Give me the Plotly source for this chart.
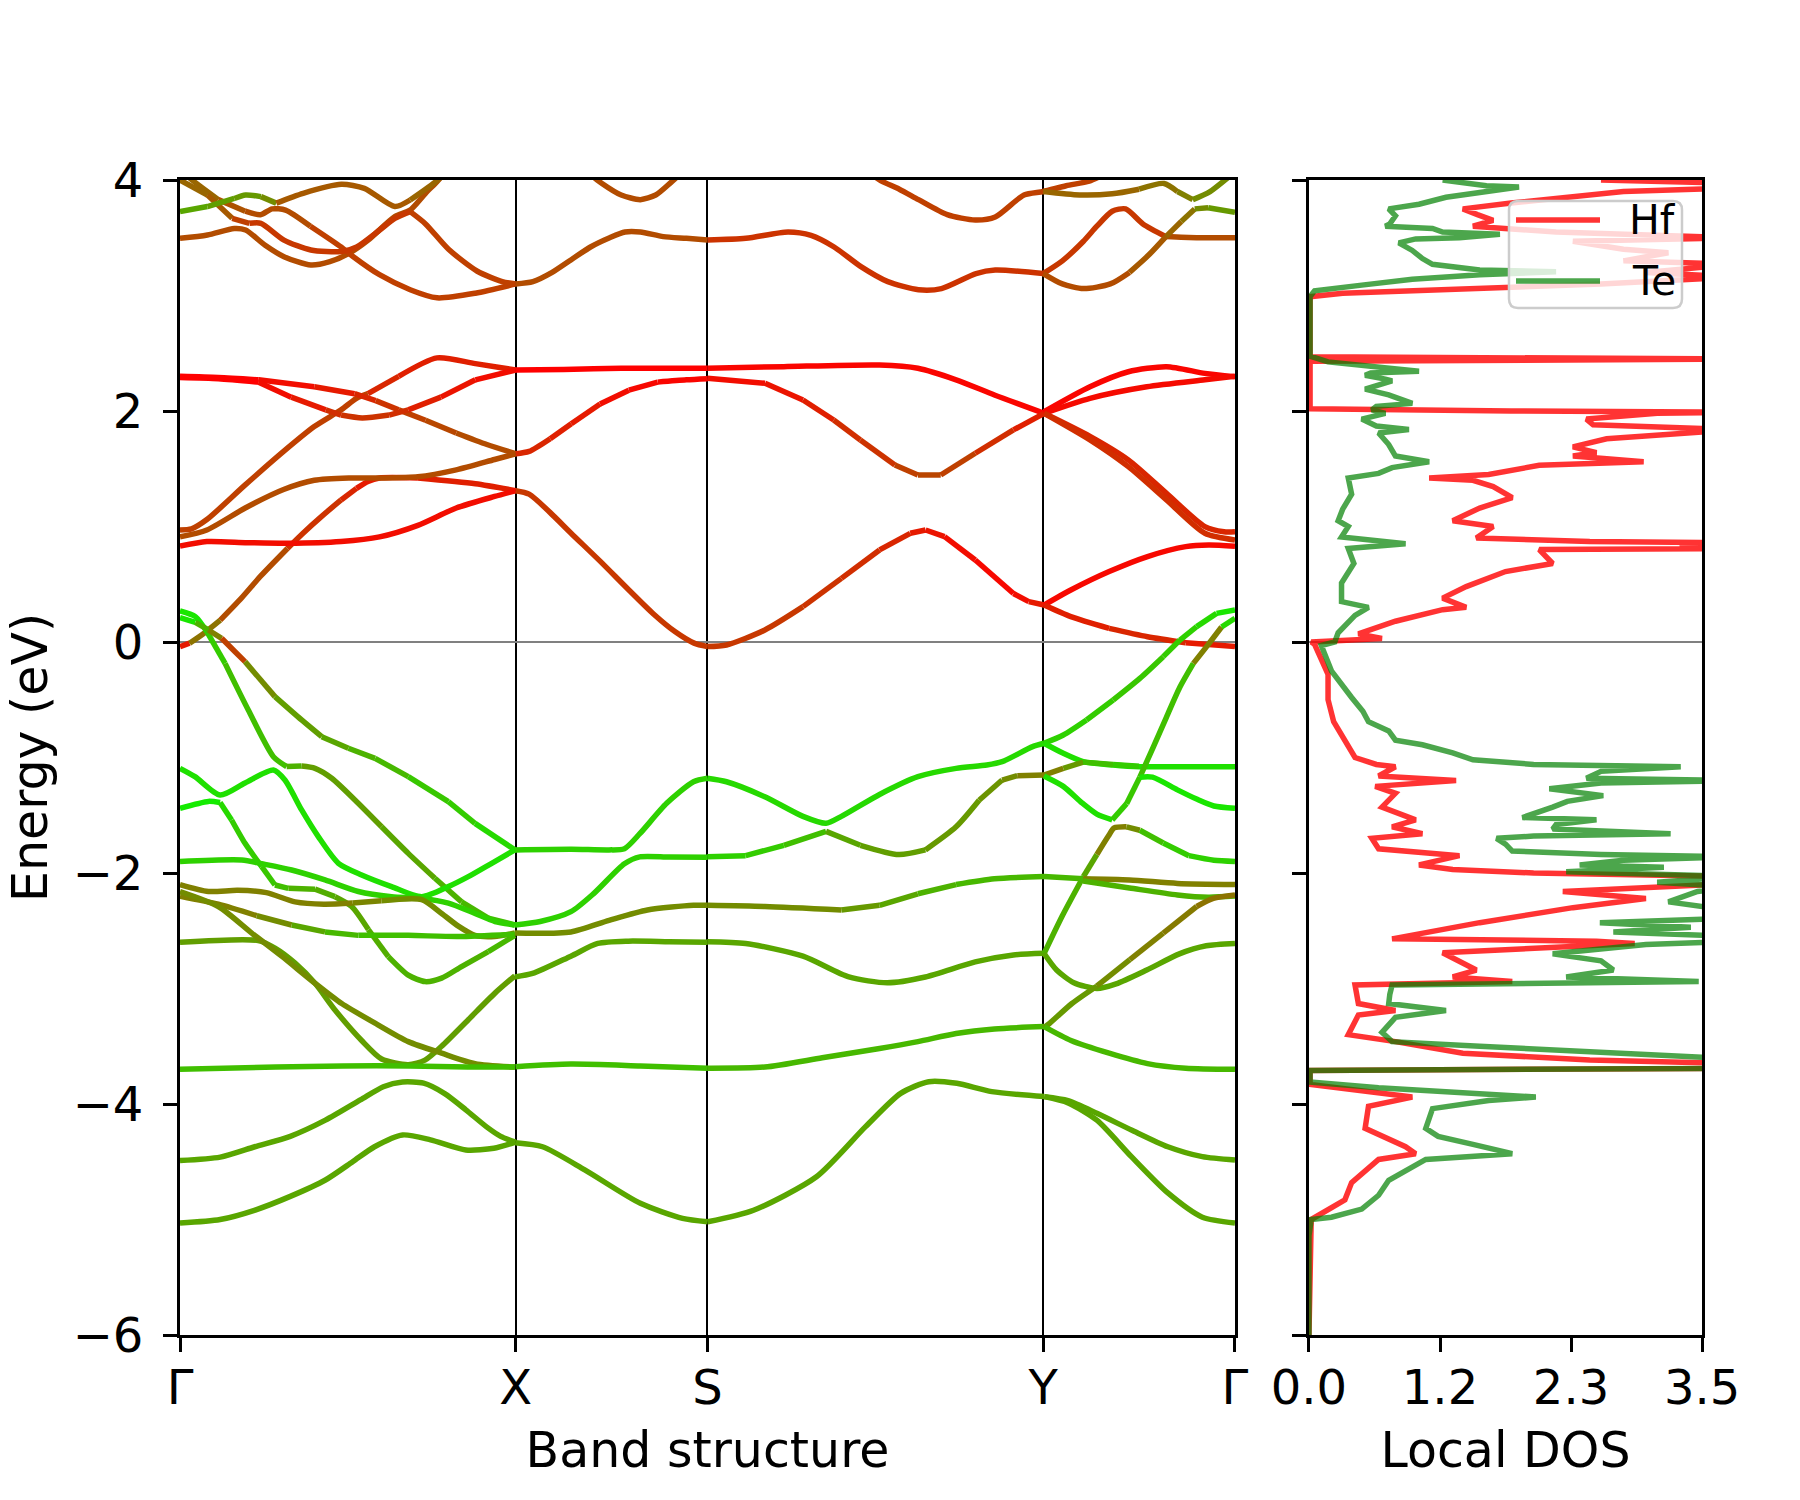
import plotly.graph_objects as go

# ---------------- axis / tick data ----------------
k_sym_pos = [0.0, 1.75, 2.75, 4.5, 5.5]
k_sym_lab = ["Γ", "X", "S", "Y", "Γ"]
e_ticks = [-6, -4, -2, 0, 2, 4]
e_tick_text = ["−6", "−4", "−2", "0", "2", "4"]
dos_max = 3.5
dos_tick_text = ["0.0", "1.2", "2.3", "3.5"]
legend_names = ["Hf", "Te"]

# ---------------- band data: k, E (eV), Te weight ----------------
# Gamma - X, conduction
gx_c1_k = [0, 0.05, 0.12, 0.21, 0.32, 0.42, 0.56, 0.64, 0.74, 0.84, 0.92, 0.98, 1.04, 1.24, 1.54, 1.75]
gx_c1_e = [-0.04, -0.01, 0.07, 0.19, 0.38, 0.57, 0.81, 0.94, 1.09, 1.23, 1.33, 1.39, 1.42, 1.42, 1.37, 1.31]
gx_c1_w = [0.1, 0.45, 0.45, 0.3, 0.3, 0.3, 0.2, 0.2, 0.2, 0.15, 0.1, 0.1, 0.1, 0.12, 0.12, 0.12]
gx_c2_k = [0, 0.14, 0.34, 0.54, 0.7, 0.88, 1.04, 1.24, 1.44, 1.64, 1.75]
gx_c2_e = [0.91, 0.97, 1.16, 1.32, 1.40, 1.42, 1.42, 1.43, 1.49, 1.58, 1.63]
gx_c2_w = 0.3
gx_c3_k = [0, 0.14, 0.35, 0.56, 0.84, 1.04, 1.24, 1.44, 1.64, 1.75]
gx_c3_e = [0.83, 0.87, 0.86, 0.855, 0.87, 0.91, 1.01, 1.16, 1.26, 1.31]
gx_c3_w = 0.05
gx_c4_k = [0, 0.06, 0.14, 0.34, 0.54, 0.7, 0.84, 0.92, 0.98, 1.14, 1.34, 1.54, 1.75]
gx_c4_e = [0.97, 0.98, 1.06, 1.36, 1.65, 1.865, 2.01, 2.11, 2.15, 2.30, 2.46, 2.41, 2.355]
gx_c4_w = [0.25, 0.25, 0.25, 0.25, 0.25, 0.25, 0.25, 0.25, 0.15, 0.12, 0.12, 0.12, 0.12]
gx_c5_k = [0, 0.2, 0.41, 0.7, 0.91, 1.02, 1.14, 1.28, 1.44, 1.6, 1.75]
gx_c5_e = [2.30, 2.29, 2.27, 2.21, 2.15, 2.09, 2.01, 1.92, 1.81, 1.71, 1.63]
gx_c5_w = [0.0, 0.0, 0.05, 0.1, 0.15, 0.2, 0.25, 0.28, 0.3, 0.3, 0.3]
gx_c6_k = [0, 0.2, 0.41, 0.58, 0.76, 0.84, 0.95, 1.09, 1.19, 1.36, 1.54, 1.75]
gx_c6_e = [2.29, 2.28, 2.25, 2.12, 2.01, 1.965, 1.94, 1.965, 2.01, 2.12, 2.27, 2.355]
gx_c6_w = [0.0, 0.0, 0.05, 0.1, 0.18, 0.2, 0.2, 0.18, 0.12, 0.08, 0.05, 0.03]
# Gamma - X, upper conduction
gx_u1_k = [0, 0.143, 0.283, 0.342, 0.442, 0.542, 0.682, 0.781, 0.881, 0.981, 1.12, 1.2, 1.28, 1.34, 1.4]
gx_u1_e = [3.495, 3.524, 3.58, 3.567, 3.437, 3.336, 3.264, 3.293, 3.365, 3.48, 3.683, 3.74, 3.885, 3.986, 4.1]
gx_u1_w = 0.3
gx_u2_k = [0.0, 0.063, 0.2, 0.34, 0.42, 0.48, 0.55, 0.68, 0.84, 0.9, 1.04, 1.2, 1.34, 1.54, 1.75]
gx_u2_e = [4.1, 4.0, 3.83, 3.73, 3.70, 3.75, 3.74, 3.60, 3.42, 3.34, 3.18, 3.05, 2.98, 3.02, 3.10]
gx_u2_w = [0.4, 0.4, 0.32, 0.3, 0.3, 0.3, 0.3, 0.25, 0.25, 0.25, 0.25, 0.25, 0.25, 0.25, 0.25]
gx_u3_k = [0, 0.143, 0.272, 0.362, 0.422, 0.542, 0.682, 0.841, 0.921, 1.041, 1.12, 1.2, 1.28, 1.4, 1.55, 1.68, 1.75]
gx_u3_e = [4.0, 3.87, 3.668, 3.625, 3.625, 3.48, 3.394, 3.38, 3.42, 3.567, 3.668, 3.726, 3.62, 3.40, 3.21, 3.12, 3.10]
gx_u3_w = [0.4, 0.35, 0.25, 0.22, 0.22, 0.22, 0.22, 0.22, 0.22, 0.22, 0.22, 0.25, 0.25, 0.25, 0.25, 0.25, 0.25]
gx_u4_k = [0, 0.143, 0.283, 0.342, 0.422, 0.502, 0.642, 0.841, 0.961, 1.12, 1.2, 1.34, 1.4]
gx_u4_e = [3.726, 3.77, 3.84, 3.87, 3.856, 3.80, 3.885, 3.963, 3.928, 3.77, 3.827, 3.995, 4.1]
gx_u4_w = [0.65, 0.62, 0.6, 0.6, 0.55, 0.35, 0.35, 0.35, 0.35, 0.35, 0.4, 0.4, 0.4]
# X - S
xs_c1_k = [1.75, 2.0, 2.3, 2.75]
xs_c1_e = [2.355, 2.36, 2.37, 2.37]
xs_c1_w = 0.0
xs_c2_k = [1.75, 1.82, 1.93, 2.04, 2.19, 2.34, 2.49, 2.64, 2.75]
xs_c2_e = [1.63, 1.65, 1.76, 1.89, 2.06, 2.18, 2.25, 2.27, 2.28]
xs_c2_w = [0.15, 0.15, 0.12, 0.1, 0.05, 0.03, 0.02, 0.02, 0.02]
xs_c3_k = [1.75, 1.82, 1.93, 2.04, 2.19, 2.34, 2.47, 2.58, 2.68, 2.75]
xs_c3_e = [1.31, 1.28, 1.12, 0.94, 0.70, 0.45, 0.24, 0.09, -0.01, -0.04]
xs_c3_w = 0.22
xs_u1_k = [1.75, 1.84, 1.94, 2.04, 2.14, 2.24, 2.32, 2.4, 2.52, 2.64, 2.75]
xs_u1_e = [3.10, 3.12, 3.20, 3.31, 3.42, 3.50, 3.55, 3.55, 3.51, 3.495, 3.48]
xs_u1_w = 0.3
xs_u2_k = [2.1, 2.2, 2.3, 2.4, 2.48, 2.56, 2.64]
xs_u2_e = [4.1, 3.97, 3.87, 3.83, 3.87, 3.98, 4.1]
xs_u2_w = 0.3
# S - Y
sy_c1_k = [2.75, 3.148, 3.647, 3.847, 4.046, 4.246, 4.505]
sy_c1_e = [2.37, 2.384, 2.398, 2.37, 2.27, 2.139, 1.98]
sy_c1_w = 0.02
sy_c2_k = [2.749, 3.05, 3.248, 3.408, 3.547, 3.727, 3.847, 3.966, 4.146, 4.345, 4.505]
sy_c2_e = [2.283, 2.24, 2.095, 1.922, 1.749, 1.533, 1.446, 1.446, 1.634, 1.836, 1.98]
sy_c2_w = [0.05, 0.08, 0.12, 0.18, 0.2, 0.25, 0.27, 0.25, 0.18, 0.12, 0.08]
sy_c3_k = [2.749, 2.849, 3.049, 3.248, 3.448, 3.647, 3.807, 3.887, 3.986, 4.146, 4.345, 4.425, 4.505]
sy_c3_e = [-0.04, -0.026, 0.104, 0.306, 0.551, 0.797, 0.941, 0.97, 0.912, 0.71, 0.42, 0.35, 0.32]
sy_c3_w = [0.22, 0.22, 0.22, 0.2, 0.18, 0.15, 0.1, 0.08, 0.05, 0.03, 0.05, 0.1, 0.12]
sy_u1_k = [2.75, 2.95, 3.17, 3.29, 3.41, 3.55, 3.69, 3.85, 3.97, 4.15, 4.25, 4.5]
sy_u1_e = [3.48, 3.495, 3.55, 3.52, 3.42, 3.25, 3.12, 3.05, 3.06, 3.19, 3.22, 3.19]
sy_u1_w = 0.2
sy_u2_k = [3.6, 3.647, 3.75, 3.85, 4.0, 4.146, 4.25, 4.4, 4.5, 4.62, 4.74, 4.82]
sy_u2_e = [4.06, 4.0, 3.92, 3.83, 3.70, 3.654, 3.68, 3.87, 3.90, 3.95, 3.99, 4.05]
sy_u2_w = 0.25
# Y - Gamma
yg_c1_k = [4.505, 4.744, 4.944, 5.143, 5.343, 5.5]
yg_c1_e = [1.994, 2.21, 2.34, 2.384, 2.326, 2.297]
yg_c1_w = 0.02
yg_c2_k = [4.505, 4.744, 5.04, 5.343, 5.5]
yg_c2_e = [1.98, 2.11, 2.21, 2.27, 2.30]
yg_c2_w = 0.04
yg_c3_k = [4.505, 4.744, 4.944, 5.143, 5.343, 5.443, 5.5]
yg_c3_e = [1.98, 1.78, 1.576, 1.287, 0.999, 0.955, 0.955]
yg_c3_w = 0.15
yg_c4_k = [4.505, 4.744, 4.944, 5.143, 5.343, 5.5]
yg_c4_e = [1.98, 1.75, 1.518, 1.23, 0.941, 0.883]
yg_c4_w = 0.18
yg_c5_k = [4.505, 4.644, 4.844, 5.044, 5.243, 5.363, 5.5]
yg_c5_e = [0.32, 0.45, 0.61, 0.74, 0.826, 0.84, 0.83]
yg_c5_w = 0.03
yg_c6_k = [4.505, 4.644, 4.844, 5.044, 5.243, 5.5]
yg_c6_e = [0.32, 0.22, 0.118, 0.046, -0.006, -0.04]
yg_c6_w = [0.12, 0.12, 0.15, 0.15, 0.1, 0.08]
yg_u1_k = [4.5, 4.6, 4.71, 4.78, 4.86, 4.93, 5.02, 5.14, 5.3, 5.5]
yg_u1_e = [3.19, 3.30, 3.47, 3.60, 3.73, 3.75, 3.62, 3.51, 3.50, 3.50]
yg_u1_w = [0.22, 0.22, 0.22, 0.22, 0.22, 0.22, 0.22, 0.3, 0.3, 0.3]
yg_u2_k = [4.5, 4.6, 4.71, 4.85, 4.95, 5.05, 5.14, 5.22, 5.29, 5.36, 5.5]
yg_u2_e = [3.19, 3.10, 3.06, 3.10, 3.20, 3.35, 3.51, 3.64, 3.75, 3.76, 3.72]
yg_u2_w = [0.3, 0.3, 0.3, 0.3, 0.35, 0.35, 0.4, 0.45, 0.55, 0.6, 0.62]
yg_u3_k = [4.5, 4.69, 4.86, 5.0, 5.13, 5.2, 5.28, 5.37, 5.47, 5.55]
yg_u3_e = [3.90, 3.87, 3.88, 3.92, 3.97, 3.90, 3.83, 3.90, 4.03, 4.15]
yg_u3_w = [0.4, 0.4, 0.4, 0.45, 0.45, 0.5, 0.55, 0.55, 0.5, 0.5]

# valence, Gamma - X
gx_v1_k = [0, 0.08, 0.14, 0.235, 0.356, 0.487, 0.556, 0.634, 0.704, 0.791, 0.912, 1.051, 1.19, 1.329, 1.468, 1.607, 1.746]
gx_v1_e = [0.27, 0.22, 0.09, -0.185, -0.589, -0.993, -1.079, -1.074, -1.094, -1.18, -1.368, -1.60, -1.83, -2.046, -2.25, -2.39, -2.45]
gx_v1_w = [0.9, 0.9, 0.8, 0.75, 0.75, 0.75, 0.7, 0.62, 0.62, 0.62, 0.62, 0.65, 0.65, 0.7, 0.72, 0.75, 0.75]
gx_v2_k = [0, 0.08, 0.148, 0.217, 0.287, 0.339, 0.495, 0.634, 0.739, 0.878, 1.017, 1.19, 1.399, 1.538, 1.746]
gx_v2_e = [0.21, 0.17, 0.104, 0.032, -0.084, -0.17, -0.473, -0.675, -0.82, -0.92, -1.007, -1.166, -1.382, -1.57, -1.80]
gx_v2_w = [0.9, 0.7, 0.5, 0.25, 0.25, 0.55, 0.62, 0.62, 0.65, 0.7, 0.72, 0.78, 0.8, 0.85, 0.85]
gx_v3_k = [0, 0.078, 0.209, 0.339, 0.487, 0.547, 0.634, 0.721, 0.826, 0.947, 1.103, 1.26, 1.399, 1.503, 1.625, 1.746]
gx_v3_e = [-1.094, -1.166, -1.325, -1.22, -1.108, -1.195, -1.454, -1.685, -1.916, -2.017, -2.118, -2.205, -2.118, -2.032, -1.916, -1.80]
gx_v3_w = 0.88
gx_v4_k = [0, 0.148, 0.209, 0.269, 0.339, 0.426, 0.495, 0.565, 0.704, 0.808, 0.895, 0.982, 1.086, 1.19, 1.277, 1.364, 1.468, 1.607, 1.746]
gx_v4_e = [-1.44, -1.38, -1.39, -1.541, -1.743, -1.945, -2.104, -2.133, -2.14, -2.205, -2.29, -2.49, -2.724, -2.884, -2.94, -2.91, -2.81, -2.68, -2.54]
gx_v4_w = [0.92, 0.92, 0.85, 0.8, 0.8, 0.78, 0.75, 0.7, 0.68, 0.65, 0.65, 0.68, 0.7, 0.7, 0.7, 0.7, 0.7, 0.72, 0.72]
gx_v5_k = [0, 0.322, 0.426, 0.582, 0.756, 0.93, 1.103, 1.26, 1.399, 1.538, 1.642, 1.746]
gx_v5_e = [-1.90, -1.887, -1.92, -1.974, -2.06, -2.16, -2.205, -2.22, -2.26, -2.35, -2.42, -2.45]
gx_v5_w = 0.82
gx_v6_k = [0, 0.148, 0.3, 0.45, 0.6, 0.75, 0.9, 1.05, 1.26, 1.364, 1.451, 1.538, 1.64, 1.746]
gx_v6_e = [-2.10, -2.16, -2.15, -2.17, -2.25, -2.27, -2.26, -2.24, -2.23, -2.35, -2.46, -2.54, -2.55, -2.52]
gx_v6_w = [0.5, 0.5, 0.5, 0.5, 0.5, 0.5, 0.52, 0.55, 0.55, 0.55, 0.55, 0.55, 0.55, 0.55]
gx_v7_k = [0, 0.2, 0.4, 0.582, 0.756, 0.93, 1.19, 1.451, 1.746]
gx_v7_e = [-2.20, -2.27, -2.37, -2.45, -2.51, -2.54, -2.54, -2.55, -2.53]
gx_v7_w = [0.5, 0.5, 0.55, 0.65, 0.72, 0.75, 0.75, 0.75, 0.75]
gx_v8_k = [0, 0.408, 0.495, 0.6, 0.704, 0.808, 0.947, 1.051, 1.19, 1.277, 1.364, 1.503, 1.642, 1.746]
gx_v8_e = [-2.60, -2.585, -2.65, -2.78, -2.955, -3.186, -3.45, -3.61, -3.66, -3.62, -3.50, -3.27, -3.04, -2.89]
gx_v8_w = 0.62
gx_v9_k = [0, 0.2, 0.374, 0.53, 0.704, 0.843, 1.017, 1.19, 1.364, 1.538, 1.746]
gx_v9_e = [-2.16, -2.29, -2.52, -2.72, -2.955, -3.13, -3.30, -3.46, -3.56, -3.65, -3.68]
gx_v9_w = 0.55
gx_v10_k = [0, 0.5, 0.85, 1.2, 1.5, 1.746]
gx_v10_e = [-3.70, -3.68, -3.67, -3.67, -3.68, -3.68]
gx_v10_w = 0.75
gx_v11_k = [0, 0.21, 0.39, 0.575, 0.758, 0.94, 1.06, 1.16, 1.27, 1.38, 1.49, 1.6, 1.672, 1.749]
gx_v11_e = [-4.49, -4.46, -4.37, -4.28, -4.14, -3.965, -3.85, -3.81, -3.82, -3.91, -4.05, -4.2, -4.28, -4.33]
gx_v11_w = 0.65
gx_v12_k = [0, 0.209, 0.392, 0.575, 0.758, 0.9, 1.014, 1.16, 1.306, 1.49, 1.636, 1.749]
gx_v12_e = [-5.03, -5.0, -4.918, -4.8, -4.658, -4.5, -4.37, -4.268, -4.31, -4.398, -4.383, -4.33]
gx_v12_w = 0.65
# valence, X - S
xs_v1_k = [1.746, 2.04, 2.237, 2.317, 2.397, 2.537, 2.677, 2.75]
xs_v1_e = [-1.80, -1.795, -1.80, -1.79, -1.66, -1.397, -1.21, -1.18]
xs_v1_w = 0.82
xs_v2_k = [1.746, 1.878, 2.038, 2.158, 2.317, 2.397, 2.55, 2.75]
xs_v2_e = [-2.45, -2.42, -2.335, -2.176, -1.92, -1.86, -1.862, -1.864]
xs_v2_w = 0.82
xs_v3_k = [1.746, 2.038, 2.237, 2.437, 2.677, 2.75]
xs_v3_e = [-2.52, -2.51, -2.41, -2.32, -2.28, -2.28]
xs_v3_w = 0.55
xs_v4_k = [1.746, 1.838, 2.038, 2.178, 2.337, 2.55, 2.75]
xs_v4_e = [-2.90, -2.87, -2.72, -2.61, -2.59, -2.595, -2.60]
xs_v4_w = 0.65
xs_v5_k = [1.749, 2.038, 2.4, 2.751]
xs_v5_e = [-3.677, -3.654, -3.67, -3.69]
xs_v5_w = 0.75
xs_v6_k = [1.749, 1.89, 2.11, 2.4, 2.62, 2.751]
xs_v6_e = [-4.335, -4.37, -4.57, -4.86, -4.99, -5.02]
xs_v6_w = 0.65
# valence, S - Y
sy_v1_k = [2.749, 2.849, 3.049, 3.248, 3.368, 3.448, 3.647, 3.847, 4.046, 4.206, 4.286, 4.445, 4.505]
sy_v1_e = [-1.18, -1.21, -1.34, -1.51, -1.57, -1.51, -1.32, -1.166, -1.094, -1.065, -1.036, -0.906, -0.877]
sy_v1_w = 0.85
sy_v2_k = [2.749, 2.949, 3.148, 3.368, 3.547, 3.747, 3.886, 4.046, 4.166, 4.286, 4.365, 4.505]
sy_v2_e = [-1.86, -1.85, -1.76, -1.64, -1.76, -1.84, -1.80, -1.60, -1.37, -1.195, -1.157, -1.152]
sy_v2_w = [0.82, 0.8, 0.75, 0.65, 0.62, 0.62, 0.6, 0.6, 0.58, 0.55, 0.5, 0.5]
sy_v3_k = [2.749, 3.049, 3.448, 3.647, 3.847, 4.046, 4.246, 4.505]
sy_v3_e = [-2.28, -2.29, -2.32, -2.28, -2.18, -2.10, -2.05, -2.03]
sy_v3_w = [0.55, 0.55, 0.6, 0.65, 0.7, 0.72, 0.72, 0.72]
sy_v4_k = [2.749, 2.949, 3.248, 3.487, 3.687, 3.886, 4.146, 4.345, 4.505]
sy_v4_e = [-2.595, -2.61, -2.72, -2.90, -2.95, -2.90, -2.77, -2.71, -2.695]
sy_v4_w = 0.65
sy_v5_k = [2.749, 3.049, 3.348, 3.647, 3.847, 4.046, 4.246, 4.505]
sy_v5_e = [-3.69, -3.68, -3.60, -3.52, -3.46, -3.39, -3.35, -3.33]
sy_v5_w = 0.72
sy_v6_k = [2.751, 2.99, 3.318, 3.574, 3.757, 3.903, 4.05, 4.232, 4.506]
sy_v6_e = [-5.02, -4.92, -4.63, -4.196, -3.908, -3.807, -3.821, -3.893, -3.936]
sy_v6_w = 0.65
# valence, Y - Gamma
yg_v1_k = [4.504, 4.605, 4.726, 4.865, 5.004, 5.126, 5.213, 5.3, 5.404, 5.5]
yg_v1_e = [-0.877, -0.805, -0.675, -0.502, -0.315, -0.127, 0.017, 0.133, 0.248, 0.277]
yg_v1_w = [0.82, 0.82, 0.8, 0.78, 0.78, 0.8, 0.82, 0.85, 0.9, 0.9]
yg_v2_k = [4.504, 4.605, 4.709, 4.865, 5.004, 5.2, 5.5]
yg_v2_e = [-0.877, -0.964, -1.036, -1.065, -1.08, -1.08, -1.08]
yg_v2_w = 0.88
yg_v3_k = [4.504, 4.605, 4.709, 4.865, 5.0]
yg_v3_e = [-1.152, -1.094, -1.04, -1.06, -1.075]
yg_v3_w = [0.5, 0.6, 0.75, 0.8, 0.85]
yg_v4_k = [4.504, 4.605, 4.70, 4.78, 4.86, 4.935, 5.004, 5.074, 5.143, 5.213, 5.283, 5.352, 5.43, 5.5]
yg_v4_e = [-1.16, -1.25, -1.39, -1.49, -1.54, -1.40, -1.17, -0.91, -0.65, -0.39, -0.185, -0.04, 0.13, 0.205]
yg_v4_w = [0.88, 0.88, 0.88, 0.88, 0.8, 0.78, 0.75, 0.75, 0.75, 0.75, 0.5, 0.5, 0.85, 0.88]
yg_v5_k = [5.004, 5.07, 5.2, 5.3, 5.39, 5.5]
yg_v5_e = [-1.17, -1.17, -1.28, -1.36, -1.42, -1.44]
yg_v5_w = 0.9
yg_v6_k = [4.504, 4.6, 4.71, 4.78, 4.84, 4.87, 4.935, 5.004, 5.126, 5.26, 5.39, 5.5]
yg_v6_e = [-2.70, -2.37, -2.03, -1.84, -1.68, -1.61, -1.60, -1.63, -1.74, -1.85, -1.89, -1.90]
yg_v6_w = [0.7, 0.7, 0.65, 0.5, 0.5, 0.5, 0.55, 0.75, 0.8, 0.82, 0.82, 0.82]
yg_v7_k = [4.504, 4.709, 4.95, 5.2, 5.5]
yg_v7_e = [-2.03, -2.05, -2.06, -2.09, -2.10]
yg_v7_w = [0.72, 0.5, 0.5, 0.5, 0.5]
yg_v8_k = [4.709, 4.95, 5.2, 5.36, 5.5]
yg_v8_e = [-2.07, -2.13, -2.19, -2.21, -2.20]
yg_v8_w = 0.7
yg_v9_k = [4.504, 4.57, 4.66, 4.78, 4.88, 5.04, 5.21, 5.35, 5.5]
yg_v9_e = [-2.695, -2.84, -2.95, -3.0, -2.96, -2.84, -2.70, -2.63, -2.61]
yg_v9_w = 0.65
yg_v10_k = [4.504, 4.535, 4.65, 4.779, 4.952, 5.126, 5.3, 5.387, 5.5]
yg_v10_e = [-3.34, -3.30, -3.13, -2.98, -2.75, -2.52, -2.29, -2.22, -2.19]
yg_v10_w = [0.6, 0.6, 0.6, 0.55, 0.5, 0.48, 0.45, 0.45, 0.45]
yg_v11_k = [4.505, 4.645, 4.844, 5.044, 5.243, 5.5]
yg_v11_e = [-3.33, -3.45, -3.56, -3.65, -3.69, -3.70]
yg_v11_w = 0.72
yg_v12_k = [4.506, 4.63, 4.78, 4.96, 5.15, 5.33, 5.5]
yg_v12_e = [-3.936, -3.97, -4.08, -4.225, -4.37, -4.456, -4.485]
yg_v12_w = 0.65
yg_v13_k = [4.506, 4.63, 4.78, 4.96, 5.15, 5.33, 5.5]
yg_v13_e = [-3.936, -3.99, -4.14, -4.456, -4.77, -4.98, -5.03]
yg_v13_w = 0.65

# ---------------- local DOS data ----------------
dos_te_e = [4.00, 3.97, 3.95, 3.94, 3.91, 3.88, 3.85, 3.79, 3.75, 3.69, 3.62, 3.60, 3.59, 3.58, 3.55, 3.53, 3.50,
            3.49, 3.455, 3.39, 3.32, 3.27, 3.22, 3.206, 3.18, 3.14, 3.09, 3.04, 2.99, 2.475, 2.425, 2.39, 2.37,
            2.345, 2.33, 2.31, 2.276, 2.26, 2.19, 2.14, 2.066, 2.04, 2.01, 1.98, 1.93, 1.87, 1.84, 1.81, 1.71,
            1.61, 1.56, 1.51, 1.46, 1.42, 1.28, 1.15, 1.05, 1.00, 0.91, 0.85, 0.81, 0.68, 0.51, 0.35, 0.30, 0.23,
            0.08, 0.00, -0.03, -0.25, -0.48, -0.60, -0.69, -0.77, -0.85, -0.89, -0.96, -1.02, -1.06, -1.08, -1.12,
            -1.18, -1.20, -1.22, -1.27, -1.33, -1.38, -1.43, -1.52, -1.54, -1.58, -1.62, -1.66, -1.68, -1.70,
            -1.75, -1.81, -1.84, -1.86, -1.89, -1.93, -1.95, -1.99, -2.03, -2.08, -2.12, -2.16, -2.25, -2.33,
            -2.39, -2.43, -2.47, -2.51, -2.55, -2.59, -2.62, -2.70, -2.76, -2.84, -2.90, -2.94, -2.96, -2.97,
            -3.05, -3.13, -3.19, -3.25, -3.38, -3.46, -3.50, -3.55, -3.61, -3.66, -3.69, -3.71, -3.81, -3.86,
            -3.90, -3.94, -3.97, -4.04, -4.21, -4.28, -4.35, -4.43, -4.48, -4.56, -4.66, -4.79, -4.91, -4.98,
            -5.00, -5.14, -6.00]
dos_te = [1.19, 1.40, 1.58, 1.87, 1.63, 1.46, 1.22, 0.98, 0.71, 0.77, 0.72, 0.68, 0.86, 1.10, 1.19, 1.70, 1.34,
          0.95, 0.80, 0.92, 1.01, 1.10, 1.52, 2.20, 1.52, 0.92, 0.47, 0.05, 0.01, 0.01, 0.17, 0.53, 0.70,
          0.98, 0.55, 0.50, 0.68, 0.74, 0.50, 0.71, 0.92, 0.60, 0.56, 0.68, 0.47, 0.60, 0.89, 0.62, 0.71,
          0.77, 1.07, 0.74, 0.62, 0.35, 0.38, 0.30, 0.26, 0.35, 0.29, 0.86, 0.35, 0.40, 0.29, 0.29, 0.53, 0.41,
          0.26, 0.23, 0.11, 0.20, 0.38, 0.48, 0.53, 0.71, 0.77, 1.01, 1.28, 1.46, 2.0, 3.31, 2.6,
          2.47, 3.8, 2.6, 2.14, 2.62, 2.3, 2.17, 1.90, 2.56, 2.2, 2.17, 3.22, 2.0, 1.67,
          1.75, 1.81, 2.6, 3.8, 2.8, 2.41, 3.16, 2.29, 3.8, 3.1, 3.8, 3.46, 3.2, 3.8,
          3.8, 2.59, 3.4, 2.71, 3.8, 3.8, 3.0, 2.17, 2.6, 2.71, 2.29, 3.47, 1.5, 0.74,
          0.72, 0.71, 1.22, 0.77, 0.65, 0.74, 1.52, 2.5, 3.8, 3.8, 3.8, 0.01, 0.01, 0.62,
          1.4, 2.02, 1.6, 1.10, 1.04, 1.15, 1.46, 1.81, 1.04, 0.9, 0.71, 0.62, 0.47, 0.2,
          0.02, 0.0, 0.0]
dos_hf_e = [4.00, 3.97, 3.93, 3.90, 3.80, 3.75, 3.70, 3.65, 3.60, 3.55, 3.50, 3.47, 3.40, 3.37, 3.30, 3.27, 3.20,
            3.16, 3.10, 3.06, 3.02, 2.99, 2.47, 2.45, 2.43, 2.02, 2.00, 1.99, 1.98, 1.93, 1.88, 1.84, 1.79, 1.76,
            1.69, 1.64, 1.61, 1.56, 1.53, 1.45, 1.42, 1.40, 1.345, 1.25, 1.16, 1.05, 1.00, 0.90, 0.87, 0.86, 0.83,
            0.81, 0.80, 0.68, 0.61, 0.48, 0.38, 0.30, 0.28, 0.18, 0.07, 0.03, 0.00, -0.02, -0.28, -0.50, -0.69,
            -0.81, -1.00, -1.06, -1.08, -1.16, -1.20, -1.25, -1.31, -1.43, -1.54, -1.60, -1.66, -1.70, -1.79,
            -1.85, -1.93, -1.97, -2.00, -2.03, -2.09, -2.16, -2.22, -2.30, -2.43, -2.57, -2.59, -2.61, -2.69,
            -2.84, -2.90, -2.94, -2.96, -2.97, -3.13, -3.19, -3.23, -3.40, -3.46, -3.56, -3.62, -3.65, -3.69,
            -3.71, -3.83, -3.90, -3.94, -4.02, -4.21, -4.37, -4.43, -4.48, -4.68, -4.83, -4.95, -5.00, -6.00]
dos_hf = [2.6, 3.8, 3.8, 2.8, 1.8, 1.37, 1.5, 1.64, 1.46, 2.2, 3.8, 2.35, 2.8, 3.2, 2.8, 3.8, 3.0,
          3.8, 2.6, 1.5, 0.3, 0.01, 0.01, 3.8, 0.01, 0.01, 1.8, 3.8, 3.1, 2.47, 2.53, 3.8, 3.13, 2.65,
          2.35, 2.56, 2.35, 2.98, 2.05, 1.6, 1.07, 1.46, 1.64, 1.81, 1.52, 1.28, 1.64, 1.49, 2.5, 3.8, 3.3,
          3.8, 2.05, 2.17, 1.75, 1.40, 1.19, 1.40, 1.19, 0.77, 0.44, 0.65, 0.02, 0.05, 0.17, 0.17, 0.22,
          0.29, 0.41, 0.6, 0.77, 0.62, 1.31, 0.59, 0.77, 0.65, 0.95, 0.74, 1.01, 0.56, 0.62,
          1.34, 0.98, 1.28, 2.0, 3.8, 3.8, 2.26, 3.0, 2.35, 1.52, 0.74, 2.56, 2.9, 1.19,
          1.49, 1.28, 1.81, 0.8, 0.41, 0.44, 0.77, 0.44, 0.35, 0.77, 1.37, 2.5, 3.8, 3.8,
          0.01, 0.01, 0.6, 0.92, 0.53, 0.50, 0.86, 0.95, 0.62, 0.38, 0.32, 0.11, 0.02, 0.0]

bands = [
    (gx_c1_k, gx_c1_e, gx_c1_w), (gx_c2_k, gx_c2_e, gx_c2_w), (gx_c3_k, gx_c3_e, gx_c3_w),
    (gx_c4_k, gx_c4_e, gx_c4_w), (gx_c5_k, gx_c5_e, gx_c5_w), (gx_c6_k, gx_c6_e, gx_c6_w),
    (gx_u1_k, gx_u1_e, gx_u1_w), (gx_u2_k, gx_u2_e, gx_u2_w), (gx_u3_k, gx_u3_e, gx_u3_w),
    (gx_u4_k, gx_u4_e, gx_u4_w),
    (xs_c1_k, xs_c1_e, xs_c1_w), (xs_c2_k, xs_c2_e, xs_c2_w), (xs_c3_k, xs_c3_e, xs_c3_w),
    (xs_u1_k, xs_u1_e, xs_u1_w), (xs_u2_k, xs_u2_e, xs_u2_w),
    (sy_c1_k, sy_c1_e, sy_c1_w), (sy_c2_k, sy_c2_e, sy_c2_w), (sy_c3_k, sy_c3_e, sy_c3_w),
    (sy_u1_k, sy_u1_e, sy_u1_w), (sy_u2_k, sy_u2_e, sy_u2_w),
    (yg_c1_k, yg_c1_e, yg_c1_w), (yg_c2_k, yg_c2_e, yg_c2_w), (yg_c3_k, yg_c3_e, yg_c3_w),
    (yg_c4_k, yg_c4_e, yg_c4_w), (yg_c5_k, yg_c5_e, yg_c5_w), (yg_c6_k, yg_c6_e, yg_c6_w),
    (yg_u1_k, yg_u1_e, yg_u1_w), (yg_u2_k, yg_u2_e, yg_u2_w), (yg_u3_k, yg_u3_e, yg_u3_w),
    (gx_v1_k, gx_v1_e, gx_v1_w), (gx_v2_k, gx_v2_e, gx_v2_w), (gx_v3_k, gx_v3_e, gx_v3_w),
    (gx_v4_k, gx_v4_e, gx_v4_w), (gx_v5_k, gx_v5_e, gx_v5_w), (gx_v6_k, gx_v6_e, gx_v6_w),
    (gx_v7_k, gx_v7_e, gx_v7_w), (gx_v8_k, gx_v8_e, gx_v8_w), (gx_v9_k, gx_v9_e, gx_v9_w),
    (gx_v10_k, gx_v10_e, gx_v10_w), (gx_v11_k, gx_v11_e, gx_v11_w), (gx_v12_k, gx_v12_e, gx_v12_w),
    (xs_v1_k, xs_v1_e, xs_v1_w), (xs_v2_k, xs_v2_e, xs_v2_w), (xs_v3_k, xs_v3_e, xs_v3_w),
    (xs_v4_k, xs_v4_e, xs_v4_w), (xs_v5_k, xs_v5_e, xs_v5_w), (xs_v6_k, xs_v6_e, xs_v6_w),
    (sy_v1_k, sy_v1_e, sy_v1_w), (sy_v2_k, sy_v2_e, sy_v2_w), (sy_v3_k, sy_v3_e, sy_v3_w),
    (sy_v4_k, sy_v4_e, sy_v4_w), (sy_v5_k, sy_v5_e, sy_v5_w), (sy_v6_k, sy_v6_e, sy_v6_w),
    (yg_v1_k, yg_v1_e, yg_v1_w), (yg_v2_k, yg_v2_e, yg_v2_w), (yg_v3_k, yg_v3_e, yg_v3_w),
    (yg_v4_k, yg_v4_e, yg_v4_w), (yg_v5_k, yg_v5_e, yg_v5_w), (yg_v6_k, yg_v6_e, yg_v6_w),
    (yg_v7_k, yg_v7_e, yg_v7_w), (yg_v8_k, yg_v8_e, yg_v8_w), (yg_v9_k, yg_v9_e, yg_v9_w),
    (yg_v10_k, yg_v10_e, yg_v10_w), (yg_v11_k, yg_v11_e, yg_v11_w), (yg_v12_k, yg_v12_e, yg_v12_w),
    (yg_v13_k, yg_v13_e, yg_v13_w),
]

HF_COLOR = "rgba(255,0,0,0.8)"
TE_COLOR = "rgba(0,128,0,0.7)"


def weight_color(w):
    return "rgb(%d,%d,0)" % (round(255 * (1 - w)), round(255 * w))


def runs(k, e, w):
    if not isinstance(w, list):
        w = [w] * len(k)
    out = []
    s = 0
    for i in range(1, len(k)):
        if w[i] != w[s]:
            out.append((k[s:i + 1], e[s:i + 1], w[s]))
            s = i
    if s < len(k) - 1:
        out.append((k[s:], e[s:], w[s]))
    return out


fig = go.Figure()

for k, e, w in bands:
    for kk, ee, ww in runs(k, e, w):
        fig.add_trace(go.Scatter(
            x=kk, y=ee, mode="lines", xaxis="x", yaxis="y",
            line=dict(color=weight_color(ww), width=5.5, shape="spline", smoothing=0.7),
            showlegend=False, hoverinfo="skip"))

fig.add_trace(go.Scatter(x=dos_hf, y=dos_hf_e, mode="lines", name=legend_names[0], xaxis="x2", yaxis="y2",
                         line=dict(color=HF_COLOR, width=5.5), showlegend=False, hoverinfo="skip"))
fig.add_trace(go.Scatter(x=dos_te, y=dos_te_e, mode="lines", name=legend_names[1], xaxis="x2", yaxis="y2",
                         line=dict(color=TE_COLOR, width=5.5), showlegend=False, hoverinfo="skip"))

tick_font = dict(family="DejaVu Sans", size=48, color="black")
axis_common = dict(showline=True, mirror=True, linecolor="black", linewidth=3,
                   ticks="outside", ticklen=14, tickwidth=3, tickcolor="black",
                   tickfont=tick_font, automargin=False)

# ---- legend drawn in paper coordinates (matplotlib-style box) ----
W, H = 1800.0, 1500.0
bx0, bx1, by0, by1 = 1509 / W, 1682 / W, 1 - 308 / H, 1 - 201 / H
rx, ry = 9 / W, 9 / H
box_path = ("M %f,%f L %f,%f Q %f,%f %f,%f L %f,%f Q %f,%f %f,%f L %f,%f Q %f,%f %f,%f L %f,%f Q %f,%f %f,%f Z" % (
    bx0 + rx, by0, bx1 - rx, by0, bx1, by0, bx1, by0 + ry, bx1, by1 - ry, bx1, by1, bx1 - rx, by1,
    bx0 + rx, by1, bx0, by1, bx0, by1 - ry, bx0, by0 + ry, bx0, by0, bx0 + rx, by0))
leg_rows = [1 - 220 / H, 1 - 281 / H]
leg_x0, leg_x1, leg_tx = 1516 / W, 1600 / W, 1678 / W

shapes = [dict(type="path", path=box_path, xref="paper", yref="paper",
               fillcolor="rgba(255,255,255,0.8)", line=dict(color="rgb(204,204,204)", width=2.5),
               layer="above")]
annotations = []
for name, col, yy in zip(legend_names, [HF_COLOR, TE_COLOR], leg_rows):
    shapes.append(dict(type="line", xref="paper", yref="paper", x0=leg_x0, x1=leg_x1, y0=yy, y1=yy,
                       line=dict(color=col, width=5.5), layer="above"))
    annotations.append(dict(text=name, xref="paper", yref="paper", x=leg_tx, y=yy,
                            xanchor="right", yanchor="middle", showarrow=False,
                            font=dict(family="DejaVu Sans", size=41, color="black")))

fig.update_layout(
    width=1800, height=1500,
    margin=dict(l=0, r=0, t=0, b=0),
    plot_bgcolor="white", paper_bgcolor="white",
    font=dict(family="DejaVu Sans", size=41, color="black"),
    xaxis=dict(domain=[0.1, 0.6861], range=[0, 5.5], anchor="y",
               tickvals=k_sym_pos, ticktext=k_sym_lab,
               showgrid=True, gridcolor="black", gridwidth=2, zeroline=False,
               ticklabelstandoff=-6,
               title=dict(text="Band structure", standoff=20), **axis_common),
    yaxis=dict(domain=[0.11, 0.88], range=[-6, 4], anchor="x",
               tickvals=e_ticks, ticktext=e_tick_text, showgrid=False,
               zeroline=True, zerolinecolor="gray", zerolinewidth=2,
               ticklabelstandoff=10,
               title=dict(text="Energy (eV)", standoff=10), **axis_common),
    xaxis2=dict(domain=[0.7272, 0.9456], range=[0, dos_max], anchor="y2",
                tickvals=[dos_max * i / 3 for i in range(4)], ticktext=dos_tick_text,
                showgrid=False, zeroline=False, ticklabelstandoff=-6,
                title=dict(text="Local DOS", standoff=20), **axis_common),
    yaxis2=dict(domain=[0.11, 0.88], range=[-6, 4], anchor="x2",
                tickvals=e_ticks, showticklabels=False, showgrid=False,
                zeroline=True, zerolinecolor="gray", zerolinewidth=2, **axis_common),
    showlegend=False,
    shapes=shapes,
    annotations=annotations,
)

fig.write_html("out.html")
